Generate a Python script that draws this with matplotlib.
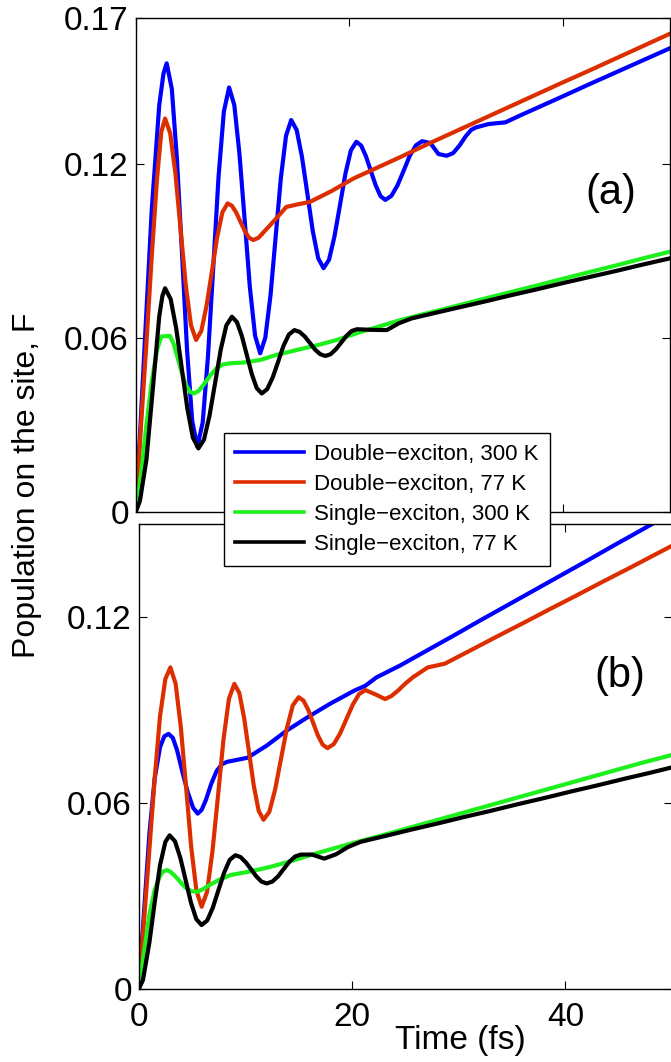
import matplotlib
matplotlib.use("Agg")
import matplotlib.pyplot as plt

plt.rcParams['font.family'] = ['Liberation Sans', 'DejaVu Sans']

# ---------------- data: panel (a) ----------------
t_a_blue = [0, 0.45, 0.9, 1.5, 2.2, 2.6, 2.9,
            3.38, 3.86, 4.34, 4.81, 5.29, 5.77,
            6.27, 6.76, 7.26, 7.75, 8.25, 8.74,
            9.23, 9.71, 10.2, 10.68, 11.17, 11.65,
            12.13, 12.62, 13.1, 13.58, 14.07, 14.55,
            15.06, 15.56, 16.07, 16.57, 17.08, 17.58,
            18.09, 18.6, 19.12, 19.63, 20.14, 20.65,
            21.1, 21.55, 22.0, 22.46, 22.91, 23.36,
            23.93, 24.51, 25.08, 25.65, 26.23, 26.8,
            27.57, 27.95, 28.33, 29.1, 29.7, 30.3, 30.9, 31.4, 31.8, 33.0, 34.6, 36.0,
            38.0, 40.0, 42.5, 45.0, 47.5, 50.0]
v_a_blue = [0, 0.030, 0.062, 0.104, 0.140, 0.151, 0.1545,
            0.1457, 0.1215, 0.0886, 0.0556, 0.0314, 0.0226,
            0.0309, 0.0535, 0.0844, 0.1153, 0.1379, 0.1462,
            0.1401, 0.1233, 0.1005, 0.0776, 0.0608, 0.0547,
            0.0601, 0.0748, 0.0949, 0.1149, 0.1296, 0.135,
            0.1316, 0.1223, 0.1095, 0.0968, 0.0874, 0.084,
            0.0869, 0.0949, 0.1058, 0.1166, 0.1246, 0.1275,
            0.1262, 0.1225, 0.1175, 0.1125, 0.1088, 0.1075,
            0.1089, 0.1126, 0.1176, 0.1227, 0.1263, 0.1277,
            0.1271, 0.1252, 0.1233, 0.1227, 0.1236, 0.1262, 0.1295, 0.1316, 0.1324, 0.1336,
            0.1342, 0.1366, 0.1399, 0.1432, 0.1474, 0.1515, 0.1556, 0.1597]

t_a_red = [0, 0.5, 1.0, 1.5, 2.0, 2.4, 2.75,
           3.23, 3.72, 4.2, 4.68, 5.17, 5.65,
           6.14, 6.63, 7.13, 7.62, 8.11, 8.6,
           9.0, 9.4, 9.8, 10.2, 10.6, 11.0,
           11.5, 12.0, 13.0, 14.1, 15.2, 16.3, 18.3, 20.4, 22.6, 24.8,
           27.5, 30.0, 32.5, 35.0, 37.5, 40.0, 42.5, 45.0, 47.5, 50.0]
v_a_red = [0, 0.030, 0.058, 0.088, 0.115, 0.131, 0.1355,
           0.1304, 0.1165, 0.0974, 0.0784, 0.0644, 0.0593,
           0.0624, 0.0711, 0.0828, 0.0946, 0.1032, 0.1063,
           0.1055, 0.1032, 0.100, 0.0969, 0.0945, 0.0937,
           0.0945, 0.0965, 0.1005, 0.1051, 0.106, 0.1068, 0.1105, 0.1149, 0.1186, 0.1223,
           0.127, 0.1312, 0.1354, 0.1396, 0.1438, 0.148, 0.1521, 0.1563, 0.1605, 0.1647]

t_a_green = [0, 0.5, 1.0, 1.5, 2.0, 2.4, 3.2, 3.55, 3.9, 4.3, 4.7, 5.1, 5.46, 5.9, 6.4,
             7.0, 7.6, 8.2, 8.84, 10.0, 11.65, 13.0, 15.0, 17.0, 18.8, 21.0, 23.0, 24.8,
             27.5, 30.0, 32.5, 35.0, 37.5, 40.0, 42.5, 45.0, 47.5, 50.0]
v_a_green = [0, 0.013, 0.030, 0.045, 0.056, 0.0605, 0.0607, 0.058, 0.0535, 0.0482, 0.0438,
             0.0414, 0.0409, 0.0418, 0.0441, 0.0472, 0.0497, 0.0509, 0.0513, 0.0515, 0.0524,
             0.054, 0.0558, 0.0575, 0.0593, 0.062, 0.0642, 0.0662, 0.0687, 0.071, 0.0734,
             0.0757, 0.078, 0.0804, 0.0827, 0.085, 0.0874, 0.0897]

t_a_black = [0, 0.4, 1.0, 1.65, 2.2, 2.5, 2.75,
             3.27, 3.79, 4.31, 4.83, 5.35, 5.87,
             6.39, 6.91, 7.44, 7.96, 8.48, 9.0,
             9.47, 9.93, 10.4, 10.87, 11.33, 11.8,
             12.31, 12.82, 13.33, 13.83, 14.34, 14.85,
             15.33, 15.82, 16.3, 16.78, 17.27, 17.75,
             18.24, 18.73, 19.23, 19.72, 20.21, 20.7,
             22.0, 23.5, 24.6, 25.8, 28.0, 30.0, 32.5, 35.0, 37.5,
             40.0, 42.5, 45.0, 47.5, 50.0]
v_a_black = [0, 0.004, 0.018, 0.0444, 0.0673, 0.0745, 0.0771,
             0.0734, 0.0633, 0.0496, 0.0358, 0.0257, 0.022,
             0.025, 0.0333, 0.0447, 0.056, 0.0643, 0.0673,
             0.0655, 0.0607, 0.0541, 0.0475, 0.0427, 0.0409,
             0.0424, 0.0464, 0.0518, 0.0573, 0.0612, 0.0627,
             0.0621, 0.0605, 0.0583, 0.056, 0.0544, 0.0538,
             0.0544, 0.0561, 0.0584, 0.0607, 0.0624, 0.063,
             0.0628, 0.0627, 0.065, 0.0667, 0.0686, 0.0703, 0.0724, 0.0746, 0.0767,
             0.0789, 0.081, 0.0831, 0.0853, 0.0874]

# ---------------- data: panel (b) ----------------
t_b_blue = [0, 0.5, 1.0, 1.5, 2.0, 2.4, 2.8, 3.2, 3.6, 4.1, 4.6, 5.1, 5.53, 5.9, 6.3,
            6.8, 7.3, 7.8, 8.3, 8.9, 10.2, 12.0, 13.9, 16.0, 18.0, 20.2, 21.25, 22.3,
            24.5, 27.0, 29.5, 32.0, 34.5, 37.0, 39.5, 42.0, 44.5, 47.0, 50.0]
v_b_blue = [0, 0.025, 0.050, 0.068, 0.078, 0.0815, 0.0823, 0.081, 0.077, 0.070, 0.0635,
            0.0585, 0.0566, 0.0578, 0.061, 0.0662, 0.0703, 0.0725, 0.0733, 0.0737, 0.0746,
            0.0785, 0.0834, 0.088, 0.0921, 0.0962, 0.0978, 0.1005, 0.1043, 0.1091, 0.1139,
            0.1188, 0.1236, 0.1284, 0.1332, 0.138, 0.1429, 0.1477, 0.1535]

t_b_red = [0, 0.5, 1.0, 1.5, 2.0, 2.5, 2.97,
           3.46, 3.95, 4.44, 4.92, 5.41, 5.9,
           6.41, 6.92, 7.44, 7.95, 8.46, 8.97,
           9.43, 9.88, 10.34, 10.79, 11.25, 11.7,
           12.25, 12.8, 13.35, 13.9, 14.45, 15.0,
           15.45, 15.9, 16.35, 16.8, 17.25, 17.7,
           18.29, 18.88, 19.48, 20.07, 20.66, 21.25,
           22.2, 23.1, 23.7, 24.3, 25.0, 25.7, 27.1, 28.7, 31.0, 33.5, 36.0, 38.5,
           41.0, 43.5, 46.0, 48.0, 50.0]
v_b_red = [0, 0.022, 0.045, 0.068, 0.088, 0.100, 0.1037,
           0.0985, 0.0844, 0.0652, 0.0459, 0.0318, 0.0266,
           0.0314, 0.0446, 0.0625, 0.0805, 0.0936, 0.0984,
           0.0955, 0.0875, 0.0765, 0.0656, 0.0575, 0.0546,
           0.0572, 0.0645, 0.0744, 0.0842, 0.0915, 0.0941,
           0.093, 0.090, 0.0859, 0.0818, 0.0788, 0.0777,
           0.079, 0.0824, 0.0871, 0.0917, 0.0951, 0.0964,
           0.095, 0.0935, 0.0945, 0.0962, 0.0985, 0.1005, 0.1037, 0.1049, 0.109, 0.1135,
           0.1179, 0.1224, 0.1268, 0.1313, 0.1357, 0.1393, 0.1429]

t_b_green = [0, 0.5, 1.0, 1.5, 2.0, 2.3, 2.66, 3.0, 3.4, 3.8, 4.2, 4.6, 5.0, 5.47, 6.0,
             6.5, 7.5, 8.6, 10.5, 12.3, 14.3, 16.25, 18.5, 20.5, 22.5, 24.5, 27.0, 29.5,
             32.0, 34.5, 37.0, 39.5, 42.0, 44.5, 47.0, 50.0]
v_b_green = [0, 0.012, 0.024, 0.032, 0.0365, 0.038, 0.0384, 0.0378, 0.0365, 0.035, 0.0334,
             0.0322, 0.0316, 0.0314, 0.0322, 0.0333, 0.0352, 0.0368, 0.038, 0.0394, 0.0413,
             0.0434, 0.0456, 0.0475, 0.0493, 0.0512, 0.0536, 0.056, 0.0584, 0.0608, 0.0632,
             0.0656, 0.068, 0.0704, 0.0728, 0.0755]

t_b_black = [0, 0.4, 1.0, 1.5, 2.0, 2.5, 2.9,
             3.4, 3.9, 4.4, 4.9, 5.4, 5.9,
             6.43, 6.95, 7.48, 8.01, 8.53, 9.06,
             9.55, 10.04, 10.53, 11.02, 11.51, 12.0,
             12.53, 13.07, 13.6, 14.13, 14.67, 15.2,
             16.25, 17.4, 18.5, 19.6, 20.8, 23.0, 25.5, 28.0, 30.5, 33.0, 35.5, 38.0,
             40.5, 43.0, 45.5, 48.0, 50.0]
v_b_black = [0, 0.003, 0.015, 0.028, 0.040, 0.0475, 0.0496,
             0.0477, 0.0424, 0.0352, 0.0279, 0.0226, 0.0207,
             0.0222, 0.0263, 0.032, 0.0376, 0.0417, 0.0432,
             0.0426, 0.0409, 0.0387, 0.0364, 0.0347, 0.0341,
             0.0347, 0.0364, 0.0388, 0.0411, 0.0428, 0.0434,
             0.0434, 0.0421, 0.0435, 0.0458, 0.0475, 0.0493, 0.0514, 0.0534, 0.0555,
             0.0575, 0.0596, 0.0616, 0.0637, 0.0657, 0.0678, 0.0698, 0.0715]

labels = ["Double\u2212exciton, 300 K", "Double\u2212exciton, 77 K",
          "Single\u2212exciton, 300 K", "Single\u2212exciton, 77 K"]
colors = ["#0000FF", "#DD2E00", "#1EF01E", "#000000"]

xticks = [0, 20, 40]
yticks_a = [0, 0.06, 0.12, 0.17]
yticks_b = [0, 0.06, 0.12]

W, H = 671, 1062
fig = plt.figure(figsize=(W / 100, H / 100), dpi=100)

ax_a = fig.add_axes([135.7 / W, (H - 512.3) / H, (670 - 135.7) / W, 494 / H])
ax_b = fig.add_axes([138.7 / W, (H - 989.3) / H, 533.3 / W, (989.3 - 523.7) / H])

lw = 3.0
series_a = [(t_a_blue, v_a_blue), (t_a_red, v_a_red), (t_a_green, v_a_green), (t_a_black, v_a_black)]
series_b = [(t_b_blue, v_b_blue), (t_b_red, v_b_red), (t_b_green, v_b_green), (t_b_black, v_b_black)]

handles = []
for (t, v), c, lab in zip(series_a, colors, labels):
    h, = ax_a.plot(t, v, color=c, lw=lw, label=lab, solid_joinstyle='round')
    handles.append(h)
for (t, v), c in zip(series_b, colors):
    ax_b.plot(t, v, color=c, lw=lw, solid_joinstyle='round')

for ax, yt, ymax in [(ax_a, yticks_a, 0.17), (ax_b, yticks_b, 0.15)]:
    ax.set_xlim(0, 50)
    ax.set_ylim(0, ymax)
    ax.set_xticks(xticks)
    ax.set_yticks(yt)
    ax.set_yticklabels([("%g" % y) for y in yt])
    ax.tick_params(direction='in', length=6, width=0.8, top=True, right=True,
                   labelsize=24, pad=5)
    ax.tick_params(axis='x', pad=9)
    for s in ax.spines.values():
        s.set_linewidth(1.0)
        s.set_color('black')

ax_a.tick_params(labelbottom=False)

ax_a.text(44.5, 0.1098, "(a)", fontsize=30, ha='center', va='center')
ax_b.text(45.1, 0.101, "(b)", fontsize=30, ha='center', va='center')

fig.text(0.040, 0.5428, "Population on the site, F", rotation=90, fontsize=23,
         ha='center', va='center')
fig.text(460 / W, (H - 1040) / H, "Time (fs)", fontsize=24, ha='center', va='center')

leg = fig.legend(handles, labels, loc='upper left',
                 bbox_to_anchor=(224 / W, (H - 433) / H), bbox_transform=fig.transFigure,
                 borderaxespad=0, fontsize=16, handlelength=3.1, handletextpad=0.45,
                 labelspacing=0.4, borderpad=0.5, fancybox=False, framealpha=1,
                 edgecolor='black')
leg.get_frame().set_linewidth(1.0)
for ln in leg.get_lines():
    ln.set_linewidth(2.6)

fig.savefig("out.png", dpi=100)
